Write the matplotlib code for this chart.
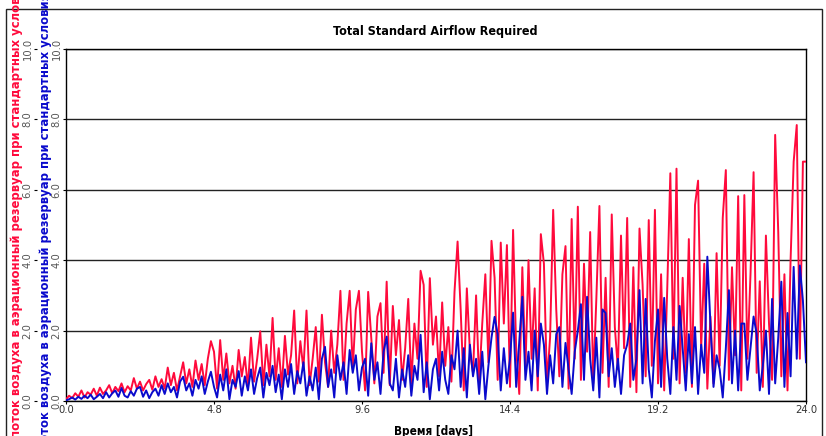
import numpy as np
import matplotlib
matplotlib.use('Agg')
import matplotlib.pyplot as plt
from matplotlib.patches import Rectangle

# time axis: one sample every 0.1 day over 24 days
time_step = 0.1

# total standard airflow, red series
red_flow = [
    0.05, 0.15, 0.08, 0.22, 0.12, 0.30, 0.10, 0.25, 0.18, 0.35,
    0.15, 0.38, 0.20, 0.30, 0.45, 0.22, 0.40, 0.28, 0.50, 0.25,
    0.42, 0.30, 0.65, 0.35, 0.55, 0.30, 0.48, 0.60, 0.32, 0.70,
    0.40, 0.62, 0.35, 0.95, 0.45, 0.80, 0.30, 0.70, 1.10, 0.50,
    0.90, 0.40, 1.15, 0.60, 1.05, 0.45, 1.20, 1.70, 1.40, 0.35,
    1.73, 0.60, 1.35, 0.50, 1.00, 0.35, 1.45, 0.70, 1.25, 0.40,
    1.80, 0.55, 1.20, 1.98, 0.45, 1.60, 0.70, 2.36, 0.60, 1.50,
    0.40, 1.85, 0.75, 1.30, 2.57, 0.50, 1.70, 0.90, 2.57, 0.45,
    1.20, 2.10, 0.55, 2.45, 1.10, 0.40, 2.00, 0.80, 1.60, 3.13,
    0.60, 2.20, 3.13, 0.90, 2.60, 3.13, 1.40, 0.30, 3.10, 1.80,
    0.50, 2.40, 2.78, 0.80, 3.39, 0.45, 2.70, 1.30, 2.30, 0.60,
    1.50, 2.90, 0.50, 2.20, 1.20, 3.70, 3.30, 0.40, 3.49, 1.60,
    2.40, 0.70, 2.80, 1.00, 2.10, 0.55, 3.10, 4.53, 2.60, 0.30,
    3.20, 1.40, 0.80, 3.00, 0.50, 2.20, 3.60, 1.10, 4.55, 3.50,
    0.60, 4.50, 2.20, 4.43, 0.40, 4.86, 1.50, 0.20, 3.80, 0.90,
    4.00, 1.20, 3.20, 0.30, 4.74, 3.90, 0.50, 1.80, 5.43, 2.60,
    0.70, 3.60, 4.40, 0.35, 5.17, 1.20, 5.52, 0.60, 3.90, 1.40,
    4.80, 0.50, 2.90, 5.54, 0.80, 3.50, 0.40, 5.30, 2.10, 0.90,
    4.70, 1.50, 5.20, 0.40, 3.80, 0.25, 4.90, 3.30, 0.70, 5.14,
    1.00, 5.43, 0.50, 3.60, 0.30, 3.20, 6.47, 1.20, 6.60, 0.50,
    3.50, 0.80, 4.60, 0.40, 5.57, 6.26, 1.50, 3.90, 0.35, 2.40,
    0.50, 4.20, 1.00, 5.20, 6.56, 0.60, 3.80, 1.30, 5.82, 0.30,
    5.85, 1.20, 3.60, 6.50, 0.80, 3.40, 0.40, 4.70, 2.20, 0.60,
    7.56, 4.80, 0.70, 3.60, 0.30, 4.00, 6.80, 7.84, 1.20, 6.80,
    6.80,
]

# second airflow series, blue
blue_flow = [
    0.02, 0.05, 0.10, 0.04, 0.12, 0.06, 0.15, 0.08, 0.18, 0.05,
    0.12, 0.20, 0.08, 0.25, 0.10, 0.22, 0.30, 0.12, 0.37, 0.15,
    0.10, 0.28, 0.15, 0.35, 0.40, 0.12, 0.30, 0.08, 0.25, 0.35,
    0.15, 0.45, 0.20, 0.50, 0.25, 0.40, 0.10, 0.55, 0.69, 0.30,
    0.50, 0.15, 0.60, 0.35, 0.70, 0.20, 0.55, 0.83, 0.40, 0.10,
    0.75, 0.30, 0.90, 0.05, 0.60, 0.40, 0.85, 0.15, 0.70, 0.30,
    0.90, 0.20, 0.65, 0.95, 0.10, 0.80, 0.45, 1.00, 0.25, 0.75,
    0.05, 0.90, 0.40, 1.05, 0.20, 0.85, 0.50, 1.10, 0.15, 0.70,
    0.30, 0.95, 0.05, 1.20, 1.54, 0.40, 0.90, 0.10, 1.30, 0.60,
    1.10, 0.20, 1.45, 0.80, 1.30, 0.30, 0.95, 1.20, 0.15, 1.64,
    0.60, 1.10, 0.20, 1.40, 1.83, 0.50, 0.30, 1.20, 0.10, 0.90,
    0.40, 1.30, 0.15, 1.00, 0.60, 1.88, 0.25, 1.10, 0.05, 0.90,
    1.20, 0.30, 1.40, 0.60, 0.20, 1.30, 0.90, 2.00, 0.40, 1.50,
    0.10, 1.60, 0.70, 1.20, 0.20, 1.40, 0.05, 1.00, 1.80, 2.39,
    1.90, 0.30, 1.50, 0.50, 1.20, 2.51, 0.40, 1.70, 2.96, 0.60,
    1.40, 0.30, 2.00, 0.70, 2.20, 1.60, 0.20, 1.30, 0.50, 1.90,
    2.10, 0.40, 1.65, 0.90, 0.20, 1.40, 2.00, 2.75, 0.60, 2.96,
    1.20, 0.30, 1.80, 0.10, 2.60, 2.50, 0.70, 1.50, 0.40, 1.20,
    0.20, 1.30, 1.60, 2.20, 0.60, 1.20, 3.15, 0.50, 2.90, 0.90,
    0.10, 1.70, 2.60, 0.40, 2.93, 1.20, 0.20, 2.10, 0.60, 2.70,
    1.50, 0.30, 1.90, 0.50, 2.10, 0.20, 1.60, 0.80, 4.10, 2.20,
    0.40, 1.30, 0.90, 0.10, 1.50, 3.15, 0.50, 2.00, 0.30, 2.20,
    2.20, 0.60, 1.50, 2.40, 1.90, 0.30, 1.00, 2.00, 0.20, 2.90,
    0.50, 1.80, 3.39, 0.40, 2.50, 0.70, 3.81, 1.20, 3.85, 2.85,
    1.10,
]

x_ticks = [0.0, 4.8, 9.6, 14.4, 19.2, 24.0]
y_ticks = [0.0, 2.0, 4.0, 6.0, 8.0, 10.0]

title = 'Total Standard Airflow Required'
x_label = 'Время [days]'
y_label = 'поток воздуха в аэрационный резервуар при стандартных условиях'

RED = '#ff0a3c'
BLUE = '#0a0acc'
narrow = dict(family='DejaVu Sans', fontstretch='condensed')

days = np.arange(len(red_flow)) * time_step

W, H = 826, 436
fig = plt.figure(figsize=(W / 100, H / 100), dpi=100)
ax = fig.add_axes([66 / W, 35 / H, 740 / W, 352 / H])

ax.plot(days, red_flow, color=RED, lw=1.4, zorder=3)
ax.plot(days, blue_flow, color=BLUE, lw=1.4, zorder=4)

ax.set_xlim(0, 24)
ax.set_ylim(0, 10)
ax.set_xticks(x_ticks)
ax.set_xticklabels(['%.1f' % t for t in x_ticks], fontsize=8, color='#333333', **narrow)
ax.set_yticks(y_ticks)
ax.set_yticklabels(['%.1f' % t for t in y_ticks], fontsize=8, color='#555555',
                   rotation=90, va='center', **narrow)
ax.tick_params(direction='out', length=2.5, width=0.8, pad=0.6)
ax.grid(axis='y', color='#222222', lw=1.0)
for s in ax.spines.values():
    s.set_color('black')
    s.set_linewidth(1.0)

# second y scale for the red series, offset to the left
ax_red = ax.secondary_yaxis(-29 / 740)
ax_red.set_yticks(y_ticks)
ax_red.set_yticklabels(['%.1f' % t for t in y_ticks], fontsize=8, color='#555555',
                       rotation=90, va='center', **narrow)
ax_red.tick_params(direction='out', length=2.5, width=0.8, pad=0.6)
ax_red.spines['left'].set_visible(False)

fig.text(435 / W, 1 - 32 / H, title, ha='center', va='center',
         fontsize=9, fontweight='bold', **narrow)
fig.text(433 / W, 1 - 431 / H, x_label, ha='center', va='center',
         fontsize=8.5, fontweight='bold', **narrow)

# long axis titles run past the figure edges
fig.text(17 / W, -2 / H, y_label, rotation=90, ha='center', va='bottom',
         fontsize=8.4, fontweight='bold', color=RED)
fig.text(45.5 / W, -14 / H, y_label, rotation=90, ha='center', va='bottom',
         fontsize=8.4, fontweight='bold', color=BLUE)

# outer frame of the figure
fig.patches.append(Rectangle((6 / W, -0.05), 816 / W, 1.05 - 9 / H, transform=fig.transFigure,
                             fill=False, edgecolor='#222222', lw=1.0))

fig.savefig('out.png', dpi=100)
